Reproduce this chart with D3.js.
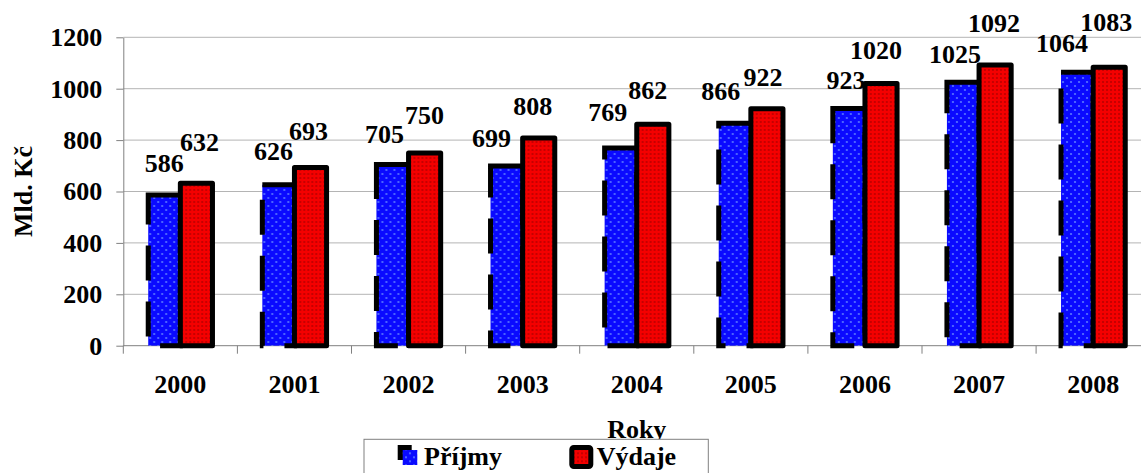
<!DOCTYPE html>
<html>
<head>
<meta charset="utf-8">
<script src="https://cdn.jsdelivr.net/npm/d3@7"></script>
<style>
  html, body { margin: 0; padding: 0; background: #fff; }
  svg { display: block; }
  text { font-family: "Liberation Serif", "Times New Roman", serif; font-weight: bold; fill: #000; }
</style>
</head>
<body>
<script>
// Příjmy a výdaje (mld. Kč), 2000–2008
const years = ["2000", "2001", "2002", "2003", "2004", "2005", "2006", "2007", "2008"];
const prijmy = [586, 626, 705, 699, 769, 866, 923, 1025, 1064];
const vydaje = [632, 693, 750, 808, 862, 922, 1020, 1092, 1083];
const seriesNames = ["Příjmy", "Výdaje"];
const yTicks = [0, 200, 400, 600, 800, 1000, 1200];

// hand-placed value labels: [dx, lift above bar] per year
const prijmyLabelNudge = [[0, 21], [-5, 22], [-8, 19], [-15, 17], [-13, 25], [-14, 21], [-3, 17], [-8, 17], [-15, 18]];
const vydajeLabelNudge = [[3, 30], [-2, 25], [0, 26], [-6, 21], [-5, 23], [-4, 20], [-5, 22], [-1, 31], [-3, 34]];

const W = 1141, H = 473;
const plotLeft = 123.3, step = 114.1, plotTop = 37.3, plotBottom = 345.7;
const FS = 26;

const svg = d3.select("body").append("svg")
  .attr("width", W).attr("height", H);

const defs = svg.append("defs");
const pb = defs.append("pattern").attr("id", "fillBlue")
  .attr("patternUnits", "userSpaceOnUse").attr("width", 8).attr("height", 8);
pb.append("rect").attr("width", 8).attr("height", 8).attr("fill", "#0a0aff");
pb.append("circle").attr("cx", 2).attr("cy", 2).attr("r", 1.1).attr("fill", "#5a78ff");
pb.append("circle").attr("cx", 6).attr("cy", 6).attr("r", 1.1).attr("fill", "#5a78ff");

const pr = defs.append("pattern").attr("id", "fillRed")
  .attr("patternUnits", "userSpaceOnUse").attr("width", 4).attr("height", 4);
pr.append("rect").attr("width", 4).attr("height", 4).attr("fill", "#f40000");
pr.append("circle").attr("cx", 2).attr("cy", 2).attr("r", 0.9).attr("fill", "#b00000");

const x0 = d3.scaleBand().domain(years)
  .range([plotLeft, plotLeft + step * years.length])
  .paddingInner(0.437).paddingOuter(0.2185);
const x1 = d3.scaleBand().domain(seriesNames).range([0, x0.bandwidth()]);
const y = d3.scaleLinear().domain([0, 1200]).range([plotBottom, plotTop]);

// gridlines
svg.append("g").selectAll("line").data(yTicks.filter(d => d > 0)).join("line")
  .attr("x1", plotLeft).attr("x2", plotLeft + step * years.length)
  .attr("y1", d => y(d)).attr("y2", d => y(d))
  .attr("stroke", "#b4b4b4").attr("stroke-width", 1);

// y axis
const yAxis = svg.append("g").attr("transform", `translate(${plotLeft},0)`)
  .call(d3.axisLeft(y).tickValues(yTicks).tickFormat(d3.format("d"))
    .tickSize(7).tickPadding(14).tickSizeOuter(0));
yAxis.select(".domain").attr("stroke", "#808080");
yAxis.selectAll(".tick line").attr("stroke", "#808080");
yAxis.selectAll(".tick text")
  .attr("font-family", "Liberation Serif, serif").attr("font-weight", "bold")
  .attr("font-size", FS).attr("fill", "#000");

// x axis line and category separators
svg.append("line").attr("x1", plotLeft).attr("x2", plotLeft + step * years.length)
  .attr("y1", plotBottom).attr("y2", plotBottom).attr("stroke", "#808080");
const bounds = years.map(d => x0(d) - x0.step() * x0.paddingOuter()).concat([x0.range()[1]]);
svg.append("g").selectAll("line").data(bounds).join("line")
  .attr("x1", d => d).attr("x2", d => d)
  .attr("y1", plotBottom).attr("y2", plotBottom + 8)
  .attr("stroke", "#808080");

svg.append("g").selectAll("text").data(years).join("text")
  .attr("x", d => x0(d) + x0.bandwidth() / 2)
  .attr("y", plotBottom + 47.6)
  .attr("text-anchor", "middle").attr("font-size", FS)
  .text(d => d);

// bars
const groups = svg.append("g").selectAll("g").data(years).join("g")
  .attr("transform", d => `translate(${x0(d)},0)`);

groups.append("rect")
  .attr("x", x1("Příjmy"))
  .attr("y", (d, i) => y(prijmy[i]))
  .attr("width", x1.bandwidth())
  .attr("height", (d, i) => y(0) - y(prijmy[i]))
  .attr("fill", "url(#fillBlue)")
  .attr("stroke", "#000").attr("stroke-width", 5)
  .attr("stroke-dasharray", "35,21");

groups.append("rect")
  .attr("x", x1("Výdaje"))
  .attr("y", (d, i) => y(vydaje[i]))
  .attr("width", x1.bandwidth())
  .attr("height", (d, i) => y(0) - y(vydaje[i]))
  .attr("fill", "url(#fillRed)")
  .attr("stroke", "#000").attr("stroke-width", 5)
  .attr("stroke-linejoin", "round");

// value labels
groups.append("text")
  .attr("x", (d, i) => x1("Příjmy") + x1.bandwidth() / 2 + prijmyLabelNudge[i][0])
  .attr("y", (d, i) => y(prijmy[i]) - 2.5 - prijmyLabelNudge[i][1])
  .attr("text-anchor", "middle").attr("font-size", FS)
  .text((d, i) => prijmy[i]);
groups.append("text")
  .attr("x", (d, i) => x1("Výdaje") + x1.bandwidth() / 2 + vydajeLabelNudge[i][0])
  .attr("y", (d, i) => y(vydaje[i]) - 2.5 - vydajeLabelNudge[i][1])
  .attr("text-anchor", "middle").attr("font-size", FS)
  .text((d, i) => vydaje[i]);

// axis titles
svg.append("text")
  .attr("transform", `translate(32,${(plotTop + plotBottom) / 2}) rotate(-90)`)
  .attr("text-anchor", "middle").attr("font-size", FS)
  .text("Mld. Kč");
svg.append("text")
  .attr("x", (x0.range()[0] + x0.range()[1]) / 2).attr("y", 437.7)
  .attr("text-anchor", "middle").attr("font-size", FS)
  .text("Roky");

// legend
const lg = svg.append("g").attr("transform", "translate(364,439.3)");
lg.append("rect").attr("width", 344.3).attr("height", 45)
  .attr("fill", "#fff").attr("stroke", "#808080").attr("stroke-width", 1);
// Příjmy key
lg.append("rect").attr("x", 33.7).attr("y", 5.7).attr("width", 14).attr("height", 15).attr("fill", "#000");
lg.append("rect").attr("x", 38.7).attr("y", 10.7).attr("width", 14.6).attr("height", 15).attr("fill", "url(#fillBlue)");
lg.append("text").attr("x", 60).attr("y", 25.7).attr("font-size", FS).text(seriesNames[0]);
// Výdaje key
lg.append("rect").attr("x", 207.8).attr("y", 8.2).attr("width", 19).attr("height", 19)
  .attr("rx", 2).attr("fill", "url(#fillRed)").attr("stroke", "#000").attr("stroke-width", 5);
lg.append("text").attr("x", 232.7).attr("y", 25.7).attr("font-size", FS).text(seriesNames[1]);
</script>
</body>
</html>
